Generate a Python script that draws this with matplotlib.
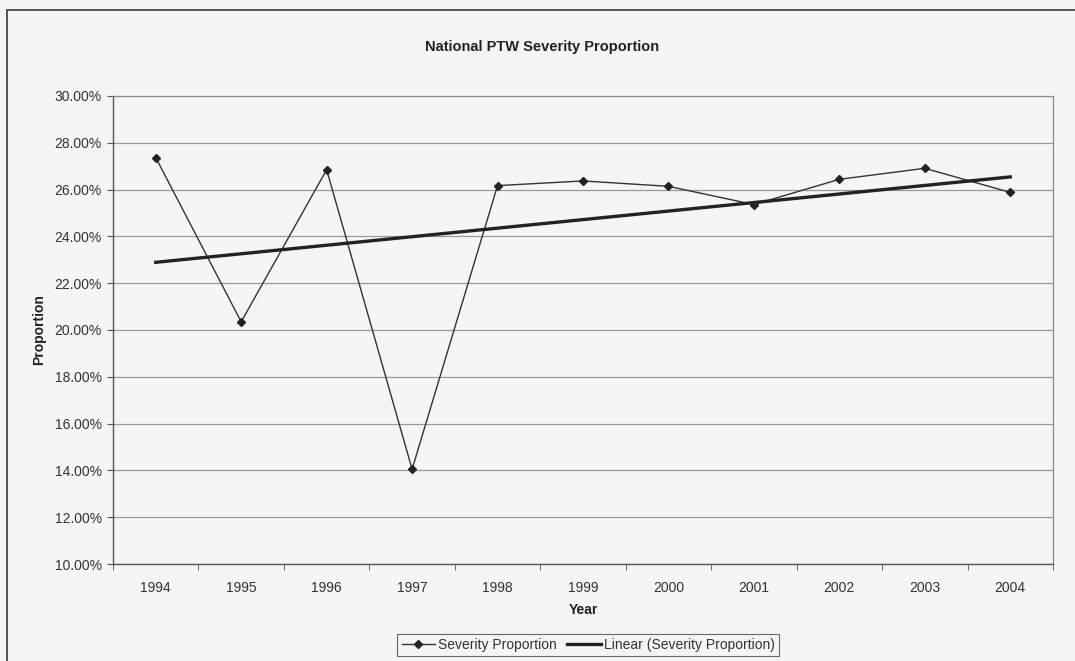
import matplotlib
matplotlib.use("Agg")
import matplotlib.pyplot as plt
import numpy as np
from matplotlib.patches import Rectangle
from matplotlib.lines import Line2D
from matplotlib.ticker import FuncFormatter, FixedLocator

# Severity proportion (%) by year
years = ["1994", "1995", "1996", "1997", "1998", "1999",
         "2000", "2001", "2002", "2003", "2004"]
severity = [27.37, 20.35, 26.85, 14.05, 26.17, 26.37,
            26.14, 25.36, 26.44, 26.91, 25.88]
y_ticks = [10, 12, 14, 16, 18, 20, 22, 24, 26, 28, 30]

plt.rcParams["font.family"] = ["Liberation Sans", "DejaVu Sans"]

bg = "#f5f5f5"
fig = plt.figure(figsize=(10.75, 6.61), dpi=100, facecolor=bg)

# outer chart frame
W, H = 1075, 661
fig.patches.append(Rectangle((7 / W, -0.05), 1.2, 1 - 10 / H + 0.05,
                             transform=fig.transFigure, fill=False,
                             edgecolor="#555555", linewidth=1.4))

ax = fig.add_axes([113 / W, 1 - 564 / H, 940 / W, (564 - 96) / H])
ax.set_facecolor(bg)

x = np.arange(len(years))
ax.plot(x, severity, color="#333333", linewidth=1.0, marker="D",
        markersize=4.5, markerfacecolor="#222222", markeredgecolor="#222222",
        zorder=3)

# least-squares trend line
slope, intercept = np.polyfit(x, severity, 1)
ax.plot(x, slope * x + intercept, color="#222222", linewidth=2.4, zorder=4)

ax.set_xlim(-0.5, len(years) - 0.5)
ax.set_ylim(10, 30)
ax.set_yticks(y_ticks)
ax.yaxis.set_major_formatter(FuncFormatter(lambda v, p: f"{v:.2f}%"))
ax.set_xticks(x)
ax.set_xticklabels(years)
ax.xaxis.set_minor_locator(FixedLocator(np.arange(-0.5, len(years), 1.0)))
ax.tick_params(axis="x", which="major", length=0, pad=12, labelsize=10,
               colors="#333333")
ax.tick_params(axis="x", which="minor", length=4, direction="out",
               color="#555555")
ax.tick_params(axis="y", length=4, direction="out", color="#555555",
               labelsize=10, labelcolor="#333333", pad=4)

ax.grid(axis="y", color="#9a9a9a", linewidth=0.9, linestyle="-")
ax.set_axisbelow(True)
for side in ["left", "bottom"]:
    ax.spines[side].set_color("#555555")
    ax.spines[side].set_linewidth(1.0)
for side in ["top", "right"]:
    ax.spines[side].set_color("#8a8a8a")
    ax.spines[side].set_linewidth(0.9)
    ax.spines[side].set_linestyle((0, (2, 1)))

fig.text(0.5045, 1 - 47 / H, "National PTW Severity Proportion",
         ha="center", va="center", fontsize=10.5, fontweight="bold",
         color="#222222")
ax.set_xlabel("Year", fontsize=10, fontweight="bold", color="#222222",
              labelpad=6)
ax.set_ylabel("Proportion", fontsize=10, fontweight="bold",
              color="#222222", labelpad=6)

handles = [
    Line2D([], [], color="#333333", linewidth=1.0, marker="D", markersize=4.5,
           markerfacecolor="#222222", markeredgecolor="#222222"),
    Line2D([], [], color="#222222", linewidth=2.4),
]
leg = fig.legend(handles, ["Severity Proportion",
                           "Linear (Severity Proportion)"],
                 loc="center", bbox_to_anchor=(588 / W, 1 - 645 / H),
                 ncol=2, frameon=True, fontsize=10, handlelength=2.4,
                 handletextpad=0.2, columnspacing=0.8, borderpad=0.3,
                 fancybox=False)
leg.get_frame().set_edgecolor("#444444")
leg.get_frame().set_linewidth(0.8)
leg.get_frame().set_facecolor(bg)
for t in leg.get_texts():
    t.set_color("#333333")

fig.savefig("out.png", dpi=100, facecolor=bg)
